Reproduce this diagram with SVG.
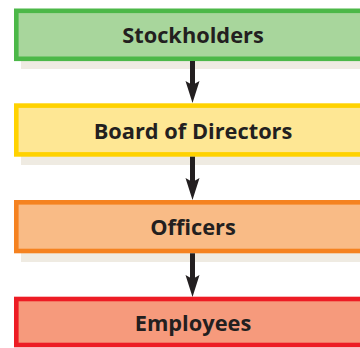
<svg xmlns="http://www.w3.org/2000/svg" width="360" height="348" viewBox="0 0 360 348">
<style>
.shadow{fill:#efebe2;}
.box{stroke-width:4.6;}
.lbl{font-family:"Open Sans","Liberation Sans",sans-serif;font-weight:700;font-size:21.8px;fill:#231f20;text-anchor:middle;}
.conn{stroke:#231f20;stroke-width:5;fill:none;}
</style>
<defs>
<marker id="ah" markerUnits="userSpaceOnUse" markerWidth="24" markerHeight="16" viewBox="0 0 24 16" refX="4" refY="8" orient="auto">
<path d="M0,1 L22,8 L0,15 L4,8 Z" fill="#231f20"/>
</marker>
</defs>
<rect width="360" height="348" fill="#ffffff"/>
<g id="stockholders">
<rect class="shadow" x="21" y="16.5" width="400" height="52.5"/>
<rect class="box" x="16.3" y="10.8" width="400" height="48" fill="#a8d69c" stroke="#4cb848"/>
<text class="lbl" x="193" y="43.3">Stockholders</text>
</g>
<g id="board">
<rect class="shadow" x="21" y="112" width="400" height="53"/>
<rect class="box" x="16.3" y="105.6" width="400" height="48.8" fill="#fee794" stroke="#ffd200"/>
<text class="lbl" x="193" y="138.5">Board of Directors</text>
</g>
<g id="officers">
<rect class="shadow" x="21" y="209" width="400" height="53"/>
<rect class="box" x="16.3" y="202.3" width="400" height="48.7" fill="#f9bb86" stroke="#f58220"/>
<text class="lbl" x="193" y="235">Officers</text>
</g>
<g id="employees">
<rect class="box" x="16.3" y="299" width="400" height="46" fill="#f69a7c" stroke="#ed1c24"/>
<text class="lbl" x="193" y="331">Employees</text>
</g>
<g id="connectors">
<line class="conn" x1="192.5" y1="61" x2="192.5" y2="85" marker-end="url(#ah)"/>
<line class="conn" x1="192.5" y1="156.7" x2="192.5" y2="182" marker-end="url(#ah)"/>
<line class="conn" x1="192.5" y1="253.3" x2="192.5" y2="279" marker-end="url(#ah)"/>
</g>
</svg>
